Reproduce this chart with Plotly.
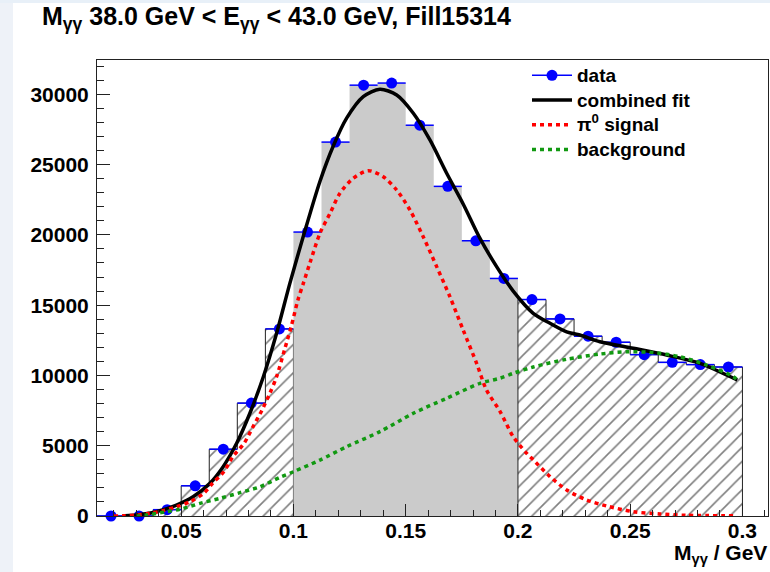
import plotly.graph_objects as go

# ---------------- data ----------------
bin_centers = [0.01875, 0.03125, 0.04375, 0.05625, 0.06875, 0.08125, 0.09375,
               0.10625, 0.11875, 0.13125, 0.14375, 0.15625, 0.16875, 0.18125, 0.19375,
               0.20625, 0.21875, 0.23125, 0.24375, 0.25625, 0.26875, 0.28125, 0.29375]
bin_width = 0.0125
data_counts = [0, 0, 450, 2150, 4750, 8030, 13310,
               20200, 26600, 30650, 30800, 27800, 23450, 19580, 16900,
               15400, 14020, 12790, 12360, 11480, 10930, 10770, 10600]
signal_window = [0.1, 0.2]

fit_x = [0.025, 0.030, 0.0389, 0.0479, 0.0553, 0.0628, 0.0687, 0.0747, 0.0806, 0.0866,
         0.0925, 0.0984, 0.1044, 0.1118, 0.1177, 0.1237, 0.1311, 0.1385, 0.146, 0.1534,
         0.1608, 0.1682, 0.1756, 0.1831, 0.1905, 0.1979, 0.2068, 0.2143, 0.2217, 0.2276,
         0.2365, 0.2514, 0.2662, 0.2811, 0.296, 0.2977]
fit_y = [20, 70, 306, 780, 1370, 2330, 3510, 5170, 7310, 9910,
         13000, 16550, 19900, 23800, 26300, 28300, 29830, 30360, 29950, 28650,
         26750, 24400, 22200, 19750, 17740, 16000, 14420, 13710, 13100, 12880,
         12400, 11930, 11450, 10860, 9800, 9670]

sig_x = [0.020, 0.025, 0.030, 0.036, 0.042, 0.048, 0.054, 0.060, 0.064, 0.069,
         0.073, 0.078, 0.082, 0.086, 0.0895, 0.0925, 0.096, 0.099, 0.102, 0.1044,
         0.1073, 0.1118, 0.1163, 0.1207, 0.1266, 0.1333, 0.140, 0.146, 0.1519, 0.1578,
         0.1638, 0.1697, 0.1756, 0.1816, 0.186, 0.192, 0.1979, 0.2039, 0.2068, 0.2143,
         0.2217, 0.2306, 0.2395, 0.2514, 0.2633, 0.2751, 0.2977]
sig_y = [0, 20, 70, 190, 380, 660, 1020, 1610, 2330, 3150,
         4220, 5170, 6350, 7540, 8730, 9910, 11810, 13470, 15370, 16550,
         17980, 20110, 21530, 22960, 24020, 24565, 24140, 23190, 21770, 19870,
         17740, 15600, 13230, 10860, 8960, 7450, 5640, 4460, 4000, 2800,
         1850, 1140, 711, 306, 142, 50, 15]

bkg_x = [0.030, 0.0346, 0.0435, 0.0495, 0.0584, 0.0673, 0.0762, 0.0851, 0.094, 0.100,
         0.1118, 0.1237, 0.1385, 0.1534, 0.1682, 0.1831, 0.192, 0.1979, 0.2068, 0.2217,
         0.2365, 0.2484, 0.2603, 0.2722, 0.2841, 0.296, 0.2977]
bkg_y = [0, 70, 306, 480, 900, 1260, 1660, 2080, 2750, 3150,
         3980, 4930, 6000, 7310, 8370, 9440, 9800, 10150, 10600, 11150,
         11520, 11690, 11620, 11330, 10740, 9910, 9670]

title_text = "M<sub>γγ</sub> 38.0 GeV < E<sub>γγ</sub> < 43.0 GeV, Fill15314"
xlabel_text = "M<sub>γγ</sub> / GeV"
legend_names = ["data", "combined fit", "π<sup>0</sup> signal", "background"]
x_tick_vals = [0.05, 0.1, 0.15, 0.2, 0.25, 0.3]
x_tick_text = ["0.05", "0.1", "0.15", "0.2", "0.25", "0.3"]
y_tick_vals = [0, 5000, 10000, 15000, 20000, 25000, 30000]

# ---------------- layout geometry ----------------
W, H = 770, 572
ML, MR, MT, MB = 97, 2, 60, 56
PW, PH = W - ML - MR, H - MT - MB
X_RANGE = [0.0125, 0.0125 + PW / 2245.0]
Y_RANGE = [0, 32440]

def px(xp):
    return (xp - ML) / PW

def py(yp):
    return (H - MB - yp) / PH

FONT = "Liberation Sans, Arial, Helvetica, sans-serif"
BLUE, RED, GREEN = "#0000ff", "#ff0000", "#119911"

fig = go.Figure()

# ---------------- histogram regions (step-filled areas) ----------------
def region_indices(lo, hi):
    return [i for i, c in enumerate(bin_centers) if lo < c < hi]

left_idx = region_indices(0, signal_window[0])
mid_idx = region_indices(signal_window[0], signal_window[1])
right_idx = region_indices(signal_window[1], 1)

hatch = dict(shape="/", fgcolor="#000000", bgcolor="white", size=10, solidity=0.16)

def step_outline(idx):
    ox, oy = [bin_centers[idx[0]] - bin_width / 2], [0]
    for i in idx:
        ox += [bin_centers[i] - bin_width / 2, bin_centers[i] + bin_width / 2]
        oy += [data_counts[i], data_counts[i]]
    ox.append(bin_centers[idx[-1]] + bin_width / 2)
    oy.append(0)
    return ox, oy

for idx, fill in [(left_idx, "hatch"), (mid_idx, "gray"), (right_idx, "hatch")]:
    ox, oy = step_outline(idx)
    if fill == "hatch":
        fig.add_trace(go.Scatter(x=ox, y=oy, mode="lines", fill="toself",
                                 fillcolor="white", fillpattern=hatch,
                                 line=dict(color="#222222", width=1),
                                 showlegend=False, hoverinfo="skip"))
    else:
        fig.add_trace(go.Scatter(x=ox, y=oy, mode="lines", fill="toself",
                                 fillcolor="#cbcbcb", line=dict(width=0, color="#cbcbcb"),
                                 showlegend=False, hoverinfo="skip"))

# ---------------- data points ----------------
fig.add_trace(go.Scatter(
    x=bin_centers, y=data_counts, mode="markers",
    marker=dict(color=BLUE, size=11),
    error_x=dict(type="constant", value=bin_width / 2, width=0, thickness=1.5, color=BLUE),
    cliponaxis=False, showlegend=False))

# ---------------- fits ----------------
fig.add_trace(go.Scatter(x=fit_x, y=fit_y, mode="lines",
                         line=dict(color="black", width=3.5, shape="spline", smoothing=0.8),
                         showlegend=False))
fig.add_trace(go.Scatter(x=sig_x, y=sig_y, mode="lines",
                         line=dict(color=RED, width=3.5, dash="4px,4px", shape="spline", smoothing=0.8),
                         showlegend=False))
fig.add_trace(go.Scatter(x=bkg_x, y=bkg_y, mode="lines",
                         line=dict(color=GREEN, width=3.5, dash="4px,4px", shape="spline", smoothing=0.8),
                         showlegend=False))

# ---------------- legend entries ----------------
def lname(s):
    return '<span style="font-size:19px">' + s + "</span>"

fig.add_trace(go.Scatter(x=[None], y=[None], mode="lines+markers", name=lname(legend_names[0]),
                         line=dict(color=BLUE, width=1.5), marker=dict(color=BLUE, size=11)))
fig.add_trace(go.Scatter(x=[None], y=[None], mode="lines", name=lname(legend_names[1]),
                         line=dict(color="black", width=3.5)))
fig.add_trace(go.Scatter(x=[None], y=[None], mode="lines", name=lname(legend_names[2]),
                         line=dict(color=RED, width=3.5, dash="4px,4px")))
fig.add_trace(go.Scatter(x=[None], y=[None], mode="lines", name=lname(legend_names[3]),
                         line=dict(color=GREEN, width=3.5, dash="4px,4px")))

axis_common = dict(showgrid=False, zeroline=False, showline=True, linecolor="#222",
                   linewidth=1, mirror=True, ticks="inside", tickcolor="#222", tickwidth=1,
                   tickfont=dict(family=FONT, size=21, color="black", weight="bold"))

fig.update_layout(
    width=W, height=H, margin=dict(l=ML, r=MR, t=MT, b=MB, autoexpand=False),
    paper_bgcolor="white", plot_bgcolor="white",
    xaxis=dict(range=X_RANGE, tickmode="array", tickvals=x_tick_vals, ticktext=x_tick_text,
               ticklen=12, minor=dict(tickmode="linear", tick0=0, dtick=0.01, ticks="inside",
                                      ticklen=6, tickcolor="#222", tickwidth=1),
               ticklabelstandoff=-4, **axis_common),
    yaxis=dict(range=Y_RANGE, tickmode="array", tickvals=y_tick_vals, tickformat="d",
               ticklen=13, minor=dict(tickmode="linear", tick0=0, dtick=1000, ticks="inside",
                                      ticklen=7, tickcolor="#222", tickwidth=1),
               ticklabelstandoff=3, **axis_common),
    legend=dict(x=px(527), y=py(58), xanchor="left", yanchor="top", bgcolor="rgba(0,0,0,0)",
                font=dict(family=FONT, size=16.7, color="black", weight="bold"),
                itemwidth=40, tracegroupgap=0),
    showlegend=True,
    annotations=[
        dict(text=title_text, xref="paper", yref="paper", x=px(40), y=py(18),
             xanchor="left", yanchor="middle", showarrow=False,
             font=dict(family=FONT, size=25, color="black", weight="bold")),
        dict(text=xlabel_text, xref="paper", yref="paper", x=px(769), y=py(554),
             xanchor="right", yanchor="middle", showarrow=False,
             font=dict(family=FONT, size=21, color="black", weight="bold")),
    ],
    shapes=[
        dict(type="rect", xref="paper", yref="paper", x0=px(0), x1=px(13), y0=py(H), y1=py(0),
             fillcolor="#eef2f8", line=dict(width=0), layer="below"),
        dict(type="rect", xref="paper", yref="paper", x0=px(0), x1=px(W), y0=py(3), y1=py(0),
             fillcolor="#e8f0f8", line=dict(width=0), layer="below"),
    ],
)

fig.write_html("out.html")
